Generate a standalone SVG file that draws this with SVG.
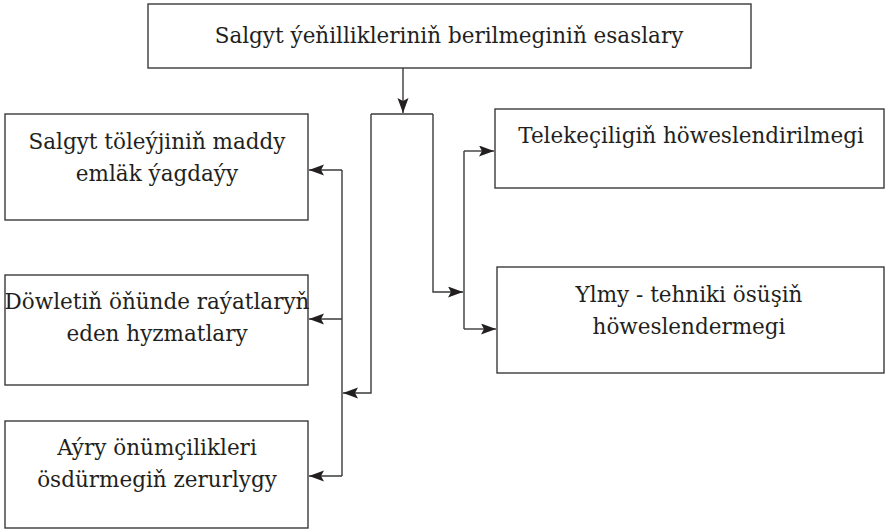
<svg xmlns="http://www.w3.org/2000/svg" width="886" height="529" viewBox="0 0 886 529">
<defs>
<marker id="ah" markerUnits="userSpaceOnUse" markerWidth="16" markerHeight="12" refX="15" refY="5.5" orient="auto">
<path d="M0,0 L15,5.5 L0,11 L3,5.5 Z" fill="#231f20"/>
</marker>
</defs>
<style>
.box{fill:#fff;stroke:#3a3a3a;stroke-width:1.4}
text{font-family:"DejaVu Serif","Liberation Serif",serif;font-size:21.5px;fill:#231f20;text-anchor:middle}
.c{fill:none;stroke:#3a3a3a;stroke-width:1.4}
.a{marker-end:url(#ah)}
</style>
<rect width="886" height="529" fill="#fff"/>
<g id="top">
<rect class="box" x="148" y="4" width="603" height="64"/>
<text x="449" y="43">Salgyt ýeňillikleriniň berilmeginiň esaslary</text>
</g>
<g id="left1">
<rect class="box" x="5" y="114" width="303" height="106"/>
<text x="157" y="149">Salgyt töleýjiniň maddy</text>
<text x="157" y="181">emläk ýagdaýy</text>
</g>
<g id="left2">
<rect class="box" x="5" y="275" width="303" height="110"/>
<text x="157" y="309">Döwletiň öňünde raýatlaryň</text>
<text x="157" y="341">eden hyzmatlary</text>
</g>
<g id="left3">
<rect class="box" x="5" y="421" width="303" height="107"/>
<text x="157" y="455">Aýry önümçilikleri</text>
<text x="157" y="487">ösdürmegiň zerurlygy</text>
</g>
<g id="right1">
<rect class="box" x="495" y="109" width="389" height="79"/>
<text x="691" y="143">Telekeçiligiň höweslendirilmegi</text>
</g>
<g id="right2">
<rect class="box" x="497" y="267" width="387" height="106"/>
<text x="689" y="302">Ylmy - tehniki ösüşiň</text>
<text x="689" y="334">höweslendermegi</text>
</g>
<g id="connectors">
<path class="c a" d="M403,68 V113"/>
<path class="c" d="M371,114 H433"/>
<path class="c a" d="M371,114 V393 H343"/>
<path class="c" d="M342,170 V476"/>
<path class="c a" d="M342,170 H309"/>
<path class="c a" d="M342,319 H309"/>
<path class="c a" d="M342,476 H309"/>
<path class="c a" d="M433,114 V292 H463"/>
<path class="c" d="M464,151 V329"/>
<path class="c a" d="M464,151 H494"/>
<path class="c a" d="M464,329 H496"/>
</g>
</svg>
